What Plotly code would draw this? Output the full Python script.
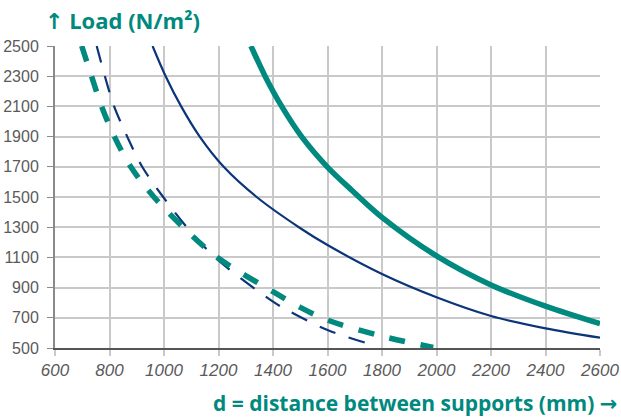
import plotly.graph_objects as go

TEAL = "#00897e"
NAVY = "#0b3579"

# Thick teal solid
teal_solid_x = [1319, 1371, 1432, 1505, 1599, 1689, 1800, 2000, 2200, 2400, 2600]
teal_solid_y = [2500, 2300, 2100, 1900, 1700, 1545, 1365, 1110, 918, 777, 661]

# Thin navy solid
navy_solid_x = [958, 1006, 1063, 1131, 1219, 1340, 1499, 1600, 1800, 2000, 2200, 2400, 2600]
navy_solid_y = [2500, 2300, 2100, 1900, 1700, 1500, 1295, 1182, 990, 836, 712, 630, 568]

# Thick teal dashed
teal_dash_x = [698, 734, 771, 818, 878, 963, 1100, 1200, 1400, 1500, 1600, 1800, 1988]
teal_dash_y = [2500, 2300, 2100, 1900, 1700, 1500, 1248, 1094, 873, 769, 685, 578, 504]

# Thin navy dashed
navy_dash_x = [753, 783, 817, 865, 920, 997, 1100, 1200, 1400, 1456, 1600, 1785]
navy_dash_y = [2500, 2300, 2100, 1900, 1700, 1500, 1265, 1080, 807, 747, 619, 510]

x_ticks = [600, 800, 1000, 1200, 1400, 1600, 1800, 2000, 2200, 2400, 2600]
y_ticks = [500, 700, 900, 1100, 1300, 1500, 1700, 1900, 2100, 2300, 2500]

SM = 0.9

fig = go.Figure()
fig.add_trace(go.Scatter(x=navy_dash_x, y=navy_dash_y, mode="lines",
                         line=dict(color=NAVY, width=2.2, dash="17px,14px", shape="spline", smoothing=SM),
                         hoverinfo="skip"))
fig.add_trace(go.Scatter(x=teal_dash_x, y=teal_dash_y, mode="lines",
                         line=dict(color=TEAL, width=5.5, dash="16px,16px", shape="spline", smoothing=SM),
                         hoverinfo="skip"))
fig.add_trace(go.Scatter(x=navy_solid_x, y=navy_solid_y, mode="lines",
                         line=dict(color=NAVY, width=2.2, shape="spline", smoothing=SM),
                         hoverinfo="skip"))
fig.add_trace(go.Scatter(x=teal_solid_x, y=teal_solid_y, mode="lines",
                         line=dict(color=TEAL, width=5.5, shape="spline", smoothing=SM),
                         hoverinfo="skip"))

fig.update_layout(
    width=621, height=418,
    margin=dict(l=55, r=21, t=46, b=70, autoexpand=False),
    paper_bgcolor="white", plot_bgcolor="white",
    showlegend=False,
    font=dict(family="Liberation Sans, Arial, sans-serif", color="#555555"),
    xaxis=dict(range=[600, 2600], tickvals=x_ticks, ticktext=[str(v) for v in x_ticks],
               automargin=False,
               showgrid=True, gridcolor="#c9c9c9", gridwidth=1.5,
               zeroline=False, showline=True, linecolor="#555555", linewidth=2,
               ticks="outside", ticklen=6, tickcolor="#c9c9c9", tickwidth=1.5,
               tickfont=dict(size=17, style="italic", color="#5a5a5a"),
               fixedrange=True),
    yaxis=dict(range=[500, 2500], tickvals=y_ticks, ticktext=[str(v) for v in y_ticks],
               automargin=False,
               showgrid=True, gridcolor="#c9c9c9", gridwidth=1.5,
               zeroline=False, showline=True, linecolor="#8a8a8a", linewidth=2,
               ticks="outside", ticklen=6, tickcolor="#8a8a8a", tickwidth=1.2,
               tickfont=dict(size=16, color="#5a5a5a"),
               ticklabelstandoff=5,
               fixedrange=True),
)

fig.add_annotation(xref="paper", yref="paper", x=0, y=1, xanchor="left", yanchor="bottom",
                   xshift=-12, yshift=9, showarrow=False,
                   text="<b><span style=\"font-family:'DejaVu Sans'\">↑</span> Load (N/m²)</b>",
                   font=dict(family="Open Sans, Roboto, sans-serif", size=22, color=TEAL))
fig.add_annotation(xref="paper", yref="paper", x=1, y=0, xanchor="right", yanchor="top",
                   xshift=19, yshift=-39, showarrow=False,
                   text="<b>d = distance between supports (mm) <span style=\"font-family:'DejaVu Sans'\">→</span></b>",
                   font=dict(family="Open Sans, Roboto, sans-serif", size=21, color=TEAL))

fig.write_html("out.html", config={"displayModeBar": False},
               post_script="document.body.style.margin='0px';")
